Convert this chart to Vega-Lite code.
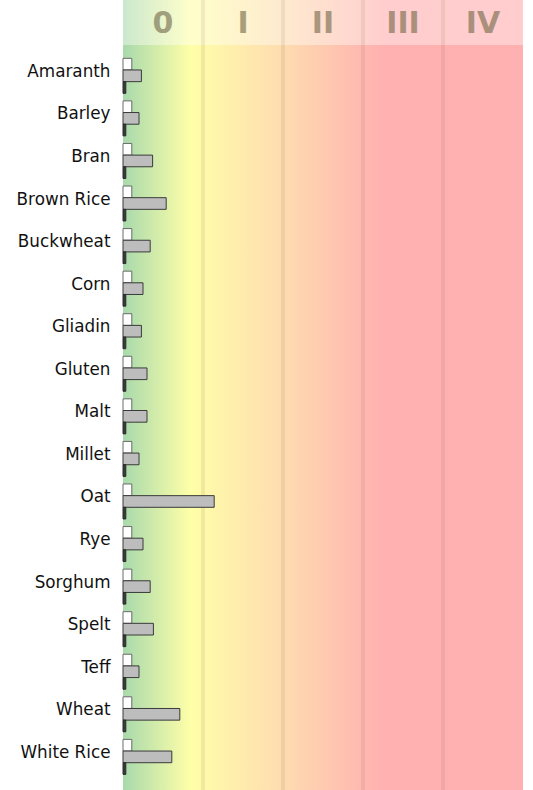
{
  "$schema": "https://vega.github.io/schema/vega-lite/v6.json",
  "padding": {"left": 16, "top": 0, "right": 10, "bottom": 0},
  "spacing": 0,
  "bounds": "flush",
  "config": {"view": {"stroke": null}, "font": "DejaVu Sans"},
  "datasets": {
    "classes": [
      {"cls": "0", "mid": 0.5},
      {"cls": "I", "mid": 1.5},
      {"cls": "II", "mid": 2.5},
      {"cls": "III", "mid": 3.5},
      {"cls": "IV", "mid": 4.5}
    ],
    "dividers": [{"pos": 1}, {"pos": 2}, {"pos": 3}, {"pos": 4}],
    "bars": [
      {"grain": "Amaranth", "series": "a", "value": 0.11}, {"grain": "Amaranth", "series": "b", "value": 0.23}, {"grain": "Amaranth", "series": "c", "value": 0.035},
      {"grain": "Barley", "series": "a", "value": 0.11}, {"grain": "Barley", "series": "b", "value": 0.2}, {"grain": "Barley", "series": "c", "value": 0.035},
      {"grain": "Bran", "series": "a", "value": 0.11}, {"grain": "Bran", "series": "b", "value": 0.37}, {"grain": "Bran", "series": "c", "value": 0.035},
      {"grain": "Brown Rice", "series": "a", "value": 0.11}, {"grain": "Brown Rice", "series": "b", "value": 0.54}, {"grain": "Brown Rice", "series": "c", "value": 0.035},
      {"grain": "Buckwheat", "series": "a", "value": 0.11}, {"grain": "Buckwheat", "series": "b", "value": 0.34}, {"grain": "Buckwheat", "series": "c", "value": 0.035},
      {"grain": "Corn", "series": "a", "value": 0.11}, {"grain": "Corn", "series": "b", "value": 0.25}, {"grain": "Corn", "series": "c", "value": 0.035},
      {"grain": "Gliadin", "series": "a", "value": 0.11}, {"grain": "Gliadin", "series": "b", "value": 0.23}, {"grain": "Gliadin", "series": "c", "value": 0.035},
      {"grain": "Gluten", "series": "a", "value": 0.11}, {"grain": "Gluten", "series": "b", "value": 0.3}, {"grain": "Gluten", "series": "c", "value": 0.035},
      {"grain": "Malt", "series": "a", "value": 0.11}, {"grain": "Malt", "series": "b", "value": 0.3}, {"grain": "Malt", "series": "c", "value": 0.035},
      {"grain": "Millet", "series": "a", "value": 0.11}, {"grain": "Millet", "series": "b", "value": 0.2}, {"grain": "Millet", "series": "c", "value": 0.035},
      {"grain": "Oat", "series": "a", "value": 0.11}, {"grain": "Oat", "series": "b", "value": 1.14}, {"grain": "Oat", "series": "c", "value": 0.035},
      {"grain": "Rye", "series": "a", "value": 0.11}, {"grain": "Rye", "series": "b", "value": 0.25}, {"grain": "Rye", "series": "c", "value": 0.035},
      {"grain": "Sorghum", "series": "a", "value": 0.11}, {"grain": "Sorghum", "series": "b", "value": 0.34}, {"grain": "Sorghum", "series": "c", "value": 0.035},
      {"grain": "Spelt", "series": "a", "value": 0.11}, {"grain": "Spelt", "series": "b", "value": 0.38}, {"grain": "Spelt", "series": "c", "value": 0.035},
      {"grain": "Teff", "series": "a", "value": 0.11}, {"grain": "Teff", "series": "b", "value": 0.2}, {"grain": "Teff", "series": "c", "value": 0.035},
      {"grain": "Wheat", "series": "a", "value": 0.11}, {"grain": "Wheat", "series": "b", "value": 0.71}, {"grain": "Wheat", "series": "c", "value": 0.035},
      {"grain": "White Rice", "series": "a", "value": 0.11}, {"grain": "White Rice", "series": "b", "value": 0.61}, {"grain": "White Rice", "series": "c", "value": 0.035}
    ]
  },
  "vconcat": [
    {
      "width": 400,
      "height": 45,
      "view": {
        "stroke": null,
        "fill": {
          "gradient": "linear", "x1": 0, "y1": 0, "x2": 1, "y2": 0,
          "stops": [
            {"offset": 0, "color": "#cbe8cd"},
            {"offset": 0.17, "color": "#ffffcb"},
            {"offset": 0.2, "color": "#fffccb"},
            {"offset": 0.4, "color": "#feeacf"},
            {"offset": 0.6, "color": "#ffd4cf"},
            {"offset": 0.66, "color": "#ffcdcd"},
            {"offset": 1, "color": "#ffcdcd"}
          ]
        }
      },
      "layer": [
        {
          "data": {"name": "dividers"},
          "mark": {"type": "tick", "orient": "vertical", "size": 45, "thickness": 4, "color": "#7a5a3a", "opacity": 0.1},
          "encoding": {"x": {"field": "pos", "type": "quantitative", "scale": {"domain": [0, 5]}, "axis": null}}
        },
        {
          "data": {"name": "classes"},
          "mark": {"type": "text", "font": "DejaVu Sans", "fontWeight": "bold", "fontSize": 30, "color": "#756b4c", "opacity": 0.62, "baseline": "middle", "dy": 1},
          "encoding": {
            "x": {"field": "mid", "type": "quantitative", "scale": {"domain": [0, 5]}, "axis": null},
            "text": {"field": "cls"}
          }
        }
      ]
    },
    {
      "width": 400,
      "height": 745,
      "view": {
        "stroke": null,
        "fill": {
          "gradient": "linear", "x1": 0, "y1": 0, "x2": 1, "y2": 0,
          "stops": [
            {"offset": 0, "color": "#a8d9ac"},
            {"offset": 0.17, "color": "#ffffa8"},
            {"offset": 0.2, "color": "#fffaaa"},
            {"offset": 0.4, "color": "#fedcb0"},
            {"offset": 0.6, "color": "#ffb8b0"},
            {"offset": 0.66, "color": "#ffb0b0"},
            {"offset": 1, "color": "#ffb0b0"}
          ]
        }
      },
      "layer": [
        {
          "data": {"name": "dividers"},
          "mark": {"type": "tick", "orient": "vertical", "size": 745, "thickness": 4, "color": "#7a5a3a", "opacity": 0.1},
          "encoding": {"x": {"field": "pos", "type": "quantitative", "scale": {"domain": [0, 5]}, "axis": null}}
        },
        {
          "data": {"name": "bars"},
          "mark": {"type": "bar", "strokeWidth": 1},
          "encoding": {
            "y": {
              "field": "grain", "type": "nominal", "sort": null,
              "scale": {"paddingInner": 0.178, "paddingOuter": 0.34, "align": 0.46},
              "axis": {"title": null, "domain": false, "ticks": false, "labelFontSize": 16.8, "labelColor": "#111", "labelPadding": 13, "labelOffset": -4, "labelFont": "DejaVu Sans"}
            },
            "yOffset": {"field": "series", "type": "nominal", "sort": ["a", "b", "c"], "scale": {"paddingInner": 0, "paddingOuter": 0}},
            "x": {"field": "value", "type": "quantitative", "scale": {"domain": [0, 5]}, "axis": null},
            "fill": {"field": "series", "type": "nominal", "scale": {"domain": ["a", "b", "c"], "range": ["#ffffff", "#bdbdbd", "#3a3a3a"]}, "legend": null},
            "stroke": {"field": "series", "type": "nominal", "scale": {"domain": ["a", "b", "c"], "range": ["#6a6a6a", "#3a3a3a", "#2a2a2a"]}, "legend": null}
          }
        }
      ]
    }
  ]
}
